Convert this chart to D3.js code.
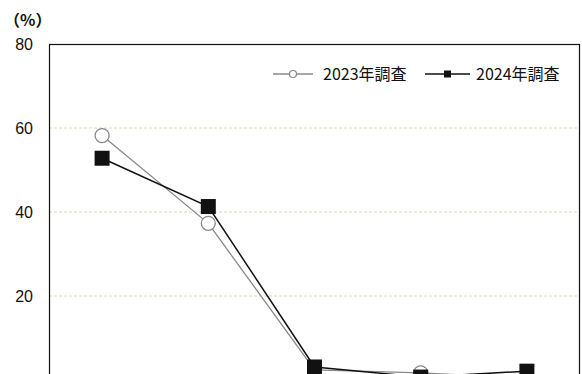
<!DOCTYPE html>
<html>
<head>
<meta charset="utf-8">
<script src="https://cdn.jsdelivr.net/npm/d3@7"></script>
<style>
  body { margin: 0; background: #fff; }
  svg { display: block; overflow: hidden; }
  text { font-family: "Noto Sans CJK JP", sans-serif; fill: #111; }
</style>
</head>
<body>
<div id="chart"></div>
<script>
// data (x labels are cut off below the frame)
var categories = ["A", "B", "C", "D", "E"];
var series2023 = [58.2, 37.3, 2.4, 1.7, 0.4];
var series2024 = [52.8, 41.3, 3.1, 0.7, 2.1];
var seriesNames = ["2023年調査", "2024年調査"];
var yTicks = [20, 40, 60, 80];

var width = 582, height = 374;
var margin = {left: 49, right: 2, top: 44};
var zeroY = 380; // the 0 line lies just below the visible area

var svg = d3.select("#chart").append("svg")
  .attr("width", width)
  .attr("height", height);

var x = d3.scalePoint()
  .domain(categories)
  .range([margin.left, width - margin.right])
  .padding(0.5);

var y = d3.scaleLinear()
  .domain([0, 80])
  .range([zeroY, margin.top]);

// grid lines
svg.append("g").selectAll("line")
  .data(yTicks.filter(function(d){ return d < 80; }))
  .enter().append("line")
    .attr("x1", margin.left)
    .attr("x2", width - margin.right)
    .attr("y1", function(d){ return y(d); })
    .attr("y2", function(d){ return y(d); })
    .attr("stroke", "#ddd6b8")
    .attr("stroke-dasharray", "3,2");

// frame
svg.append("rect")
  .attr("x", margin.left + 0.5)
  .attr("y", margin.top + 0.5)
  .attr("width", width - margin.right - margin.left - 1)
  .attr("height", zeroY - margin.top)
  .attr("fill", "none")
  .attr("stroke", "#111")
  .attr("stroke-width", 1.2);

// y axis labels
var yAxis = d3.axisLeft(y).tickValues(yTicks).tickSize(0).tickPadding(16);
var yg = svg.append("g")
  .attr("transform", "translate(" + margin.left + ",0)")
  .call(yAxis);
yg.select(".domain").remove();
yg.selectAll("text")
  .attr("font-size", 16)
  .attr("fill", "#111")
  .style("font-family", "'Liberation Sans', sans-serif");

svg.append("text")
  .attr("x", 4)
  .attr("y", 26)
  .attr("font-size", 16)
  .attr("font-weight", "bold")
  .text("（%）");

var line = d3.line()
  .x(function(d, i){ return x(categories[i]); })
  .y(function(d){ return y(d); });

// 2023 series
svg.append("path")
  .datum(series2023)
  .attr("d", line)
  .attr("fill", "none")
  .attr("stroke", "#888")
  .attr("stroke-width", 1.3);

svg.append("g").selectAll("circle")
  .data(series2023)
  .enter().append("circle")
    .attr("cx", function(d, i){ return x(categories[i]); })
    .attr("cy", function(d){ return y(d); })
    .attr("r", 7)
    .attr("fill", "#fff")
    .attr("stroke", "#888")
    .attr("stroke-width", 1.3);

// 2024 series
svg.append("path")
  .datum(series2024)
  .attr("d", line)
  .attr("fill", "none")
  .attr("stroke", "#111")
  .attr("stroke-width", 1.5);

svg.append("g").selectAll("rect")
  .data(series2024)
  .enter().append("rect")
    .attr("x", function(d, i){ return x(categories[i]) - 7.5; })
    .attr("y", function(d){ return y(d) - 7.5; })
    .attr("width", 15)
    .attr("height", 15)
    .attr("fill", "#111");

// legend
var legendY = 74;
var lg = svg.append("g");

lg.append("line")
  .attr("x1", 273).attr("x2", 313)
  .attr("y1", legendY).attr("y2", legendY)
  .attr("stroke", "#888").attr("stroke-width", 1.3);
lg.append("circle")
  .attr("cx", 293).attr("cy", legendY).attr("r", 3.5)
  .attr("fill", "#fff").attr("stroke", "#888").attr("stroke-width", 1.2);
lg.append("text")
  .attr("x", 323).attr("y", legendY + 6)
  .attr("font-size", 16)
  .text(seriesNames[0]);

lg.append("line")
  .attr("x1", 425).attr("x2", 470)
  .attr("y1", legendY).attr("y2", legendY)
  .attr("stroke", "#111").attr("stroke-width", 1.5);
lg.append("rect")
  .attr("x", 444).attr("y", legendY - 3.5)
  .attr("width", 7).attr("height", 7)
  .attr("fill", "#111");
lg.append("text")
  .attr("x", 476).attr("y", legendY + 6)
  .attr("font-size", 16)
  .text(seriesNames[1]);
</script>
</body>
</html>
